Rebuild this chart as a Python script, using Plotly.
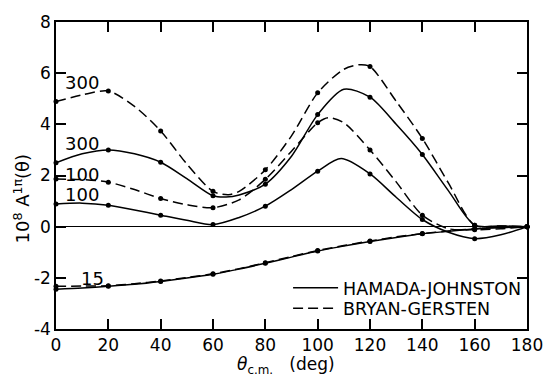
import plotly.graph_objects as go

# ---- data ----
ang_hj300 = [0, 10, 20, 30, 40, 50, 60, 65, 70, 80, 90, 100, 110, 120, 130, 140, 150, 160, 170, 180]
hj300 = [2.50, 2.85, 3.00, 2.85, 2.52, 1.88, 1.21, 1.16, 1.24, 1.66, 2.75, 4.38, 5.37, 5.06, 4.00, 2.82, 1.40, 0.06, 0.03, 0.0]

ang_bg300 = [0, 10, 20, 30, 40, 50, 60, 66, 70, 80, 90, 100, 110, 116, 120, 130, 140, 150, 160, 170, 180]
bg300 = [4.89, 5.15, 5.30, 4.70, 3.74, 2.45, 1.38, 1.25, 1.38, 2.22, 3.55, 5.23, 6.15, 6.33, 6.26, 4.90, 3.45, 1.70, 0.06, 0.03, 0.0]

ang_hj100 = [0, 10, 20, 30, 40, 50, 60, 70, 80, 90, 100, 109, 120, 130, 140, 150, 160, 170, 180]
hj100 = [0.89, 0.92, 0.84, 0.65, 0.45, 0.25, 0.08, 0.36, 0.80, 1.45, 2.17, 2.66, 2.06, 1.15, 0.28, -0.22, -0.47, -0.32, 0.0]

ang_bg100 = [0, 10, 20, 30, 40, 50, 60, 70, 80, 90, 100, 104, 110, 120, 130, 140, 150, 160, 170, 180]
bg100 = [1.86, 1.84, 1.74, 1.45, 1.10, 0.86, 0.74, 1.05, 1.85, 2.95, 4.06, 4.26, 4.06, 3.00, 1.75, 0.45, -0.08, -0.12, -0.08, 0.0]

ang_15 = [0, 10, 20, 30, 40, 50, 60, 70, 80, 90, 100, 110, 120, 130, 140, 150, 160, 170, 180]
hj15 = [-2.45, -2.40, -2.33, -2.25, -2.14, -2.01, -1.86, -1.66, -1.43, -1.19, -0.95, -0.76, -0.58, -0.42, -0.28, -0.18, -0.09, -0.04, 0.0]
bg15 = [-2.33, -2.32, -2.31, -2.23, -2.12, -1.99, -1.84, -1.64, -1.41, -1.17, -0.93, -0.74, -0.56, -0.40, -0.27, -0.17, -0.08, -0.03, 0.0]

curve_labels = ["300", "300", "100", "100", "15"]
label_pos_x = [10, 10, 10, 10, 14]
label_pos_y = [5.63, 3.27, 2.05, 1.24, -2.02]

legend_names = ["HAMADA-JOHNSTON", "BRYAN-GERSTEN"]
x_ticks = list(range(0, 181, 20))
y_ticks = [-4, -2, 0, 2, 4, 6, 8]

FONT = "DejaVu Sans"
DASH = "10px,5px"
PLOT_H = 313.0

fig = go.Figure()

series = [
    (ang_hj300, hj300, "solid", 0),
    (ang_bg300, bg300, DASH, 1),
    (ang_hj100, hj100, "solid", None),
    (ang_bg100, bg100, DASH, None),
    (ang_15, hj15, "solid", None),
    (ang_15, bg15, DASH, None),
]

for xs, ys, dash, leg in series:
    if leg is not None:
        kw = dict(name=legend_names[leg], showlegend=True, legend="legend" if leg == 0 else "legend2")
    else:
        kw = dict(showlegend=False)
    fig.add_trace(go.Scatter(
        x=xs, y=ys, mode="lines",
        line=dict(color="black", width=1.5, dash=dash, shape="spline", smoothing=0.8),
        cliponaxis=False, hoverinfo="skip", **kw,
    ))
    mx = [a for a in xs if a % 20 == 0]
    my = [v for a, v in zip(xs, ys) if a % 20 == 0]
    fig.add_trace(go.Scatter(
        x=mx, y=my, mode="markers",
        marker=dict(color="black", size=5),
        showlegend=False, cliponaxis=False, hoverinfo="skip",
    ))

for t, lx, ly in zip(curve_labels, label_pos_x, label_pos_y):
    fig.add_annotation(x=lx, y=ly, text=t, showarrow=False, xanchor="center",
                       yanchor="middle", font=dict(family=FONT, size=18, color="black"))

fig.add_annotation(xref="paper", yref="y", x=-35 / 481, y=1.09, text="10<sup>8</sup> A<sup>1π</sup>(θ)",
                   textangle=-90, showarrow=False, xanchor="center", yanchor="middle",
                   font=dict(family=FONT, size=18, color="black"))
fig.add_annotation(xref="x", yref="paper", x=88, y=-37 / PLOT_H, text="<i>θ</i><sub>c.m.</sub>   (deg)",
                   showarrow=False, xanchor="center", yanchor="middle",
                   font=dict(family=FONT, size=17, color="black"))

axis_common = dict(
    showline=True, linecolor="black", linewidth=1.5, mirror="ticks",
    ticks="inside", ticklen=10, tickwidth=1.5, tickcolor="black",
    showgrid=False, tickfont=dict(family=FONT, size=17, color="black"),
)

fig.update_xaxes(range=[0, 180], tickvals=x_ticks, ticktext=[str(v) for v in x_ticks],
                 zeroline=False, **axis_common)
fig.update_yaxes(range=[-4, 8], tickvals=y_ticks, ticktext=[str(v) for v in y_ticks],
                 zeroline=True, zerolinecolor="black", zerolinewidth=1, **axis_common)

leg_common = dict(xanchor="left", yanchor="middle", font=dict(family=FONT, size=17.5, color="black"),
                  bgcolor="rgba(0,0,0,0)", itemwidth=45, tracegroupgap=0)
fig.update_layout(
    width=555, height=377,
    margin=dict(l=56, r=18, t=16, b=48),
    paper_bgcolor="white", plot_bgcolor="white",
    legend=dict(x=(298 - 56 - 5) / 481, y=(329 - 287) / PLOT_H, **leg_common),
    legend2=dict(x=(298 - 56 - 5) / 481, y=(329 - 308) / PLOT_H, **leg_common),
)

fig.write_html("out.html")
